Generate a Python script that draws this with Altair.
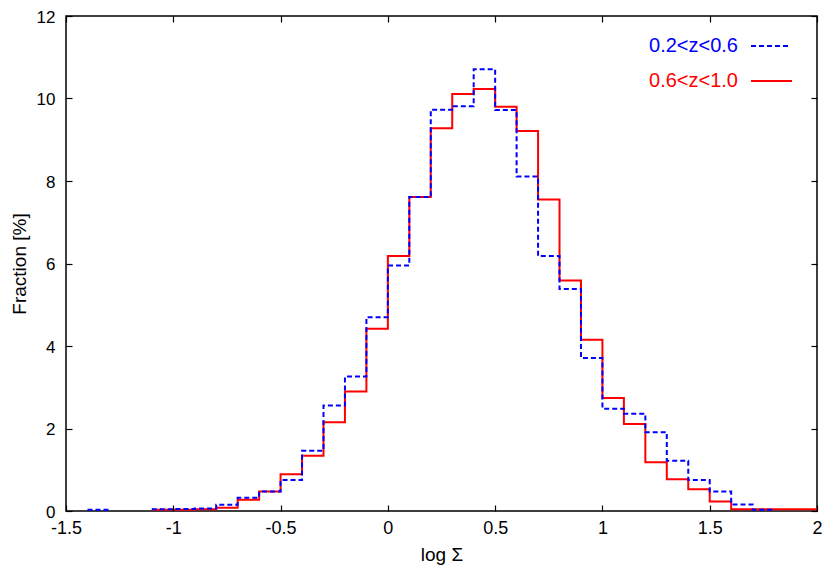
import altair as alt
import pandas as pd

# Bin edges (left edges of 0.1-wide bins) and the final right edge
bin_left = [-1.5, -1.4, -1.3, -1.2, -1.1, -1.0, -0.9, -0.8, -0.7, -0.6,
            -0.5, -0.4, -0.3, -0.2, -0.1, 0.0, 0.1, 0.2, 0.3, 0.4,
            0.5, 0.6, 0.7, 0.8, 0.9, 1.0, 1.1, 1.2, 1.3, 1.4,
            1.5, 1.6, 1.7, 1.8, 1.9]
bin_right_end = 2.0

# Fraction [%] per bin
low_z = [0, 0.03, 0, 0, 0.04, 0.05, 0.06, 0.15, 0.32, 0.47,
         0.75, 1.46, 2.56, 3.26, 4.70, 5.95, 7.61, 9.73, 9.81, 10.71,
         9.72, 8.11, 6.18, 5.38, 3.71, 2.48, 2.36, 1.91, 1.22, 0.75,
         0.47, 0.16, 0.03, 0, 0]
high_z = [0, 0, 0, 0, 0.03, 0.03, 0.04, 0.08, 0.27, 0.47,
          0.89, 1.34, 2.15, 2.90, 4.42, 6.18, 7.61, 9.28, 10.11, 10.23,
          9.80, 9.21, 7.55, 5.59, 4.15, 2.74, 2.11, 1.18, 0.77, 0.53,
          0.23, 0.04, 0.04, 0.04, 0.04]

series_labels = ["0.2<z<0.6", "0.6<z<1.0"]
x_ticks = [-1.5, -1.0, -0.5, 0.0, 0.5, 1.0, 1.5, 2.0]
y_ticks = [0, 2, 4, 6, 8, 10, 12]


def step_rows(values, name):
    rows = []
    seg = 0
    run = False
    for i, v in enumerate(values):
        if v > 0:
            rows.append({"x": bin_left[i], "y": v, "seg": seg, "series": name})
            run = True
        elif run:
            rows.append({"x": bin_left[i], "y": values[i - 1], "seg": seg, "series": name})
            seg += 1
            run = False
    if run:
        rows.append({"x": bin_right_end, "y": values[-1], "seg": seg, "series": name})
    return rows


df_low = pd.DataFrame(step_rows(low_z, series_labels[0]))
df_high = pd.DataFrame(step_rows(high_z, series_labels[1]))

FONT = "Liberation Sans"
xs = alt.Scale(domain=[-1.5, 2.0], nice=False, zero=False)
ys = alt.Scale(domain=[0, 12], nice=False, zero=False)

common_axis = dict(offset=-6, domain=False, tickSize=6, tickColor="black",
                   tickWidth=1.2, grid=False, labelFont=FONT, titleFont=FONT,
                   labelColor="black", titleColor="black",
                   titleFontWeight="normal", titleFontSize=19, zindex=1)

x_bottom = alt.Axis(orient="bottom", values=x_ticks, title="log Σ",
                    labelExpr="toString(datum.value)", labelPadding=8,
                    labelFontSize=18, titlePadding=8, labelFlush=False,
                    **common_axis)
y_left = alt.Axis(orient="left", values=y_ticks, title="Fraction [%]",
                  labelExpr="toString(datum.value)", labelPadding=11,
                  labelFontSize=17, labelOffset=1,
                  titlePadding=7, labelFlush=False, **common_axis)
x_top = alt.Axis(orient="top", values=x_ticks, title=None, labels=False, **common_axis)
y_right = alt.Axis(orient="right", values=y_ticks, title=None, labels=False, **common_axis)

high_line = alt.Chart(df_high).mark_line(
    interpolate="step-after", color="#ff0000", strokeWidth=2
).encode(
    x=alt.X("x:Q", scale=xs, axis=x_bottom),
    y=alt.Y("y:Q", scale=ys, axis=y_left),
    detail="seg:N",
)

low_line = alt.Chart(df_low).mark_line(
    interpolate="step-after", color="#0000ff", strokeWidth=2, strokeDash=[5, 3]
).encode(
    x=alt.X("x:Q", scale=xs, axis=x_top),
    y=alt.Y("y:Q", scale=ys, axis=y_right),
    detail="seg:N",
)

one = pd.DataFrame({"a": [0]})
leg_low_text = alt.Chart(one).mark_text(
    text=series_labels[0], color="#0000ff", font=FONT, fontSize=20,
    align="right", baseline="middle"
).encode(x=alt.value(672), y=alt.value(30))
leg_low_line = alt.Chart(one).mark_rule(
    color="#0000ff", strokeWidth=2, strokeDash=[5, 3]
).encode(x=alt.value(685), x2=alt.value(724), y=alt.value(30))
leg_high_text = alt.Chart(one).mark_text(
    text=series_labels[1], color="#ff0000", font=FONT, fontSize=20,
    align="right", baseline="middle"
).encode(x=alt.value(672), y=alt.value(65))
leg_high_line = alt.Chart(one).mark_rule(
    color="#ff0000", strokeWidth=2
).encode(x=alt.value(685), x2=alt.value(726), y=alt.value(65))

chart = alt.layer(
    high_line, low_line, leg_low_text, leg_low_line, leg_high_text, leg_high_line
).resolve_axis(
    x="independent", y="independent"
).properties(
    width=751, height=495,
    autosize=alt.AutoSizeParams(type="none"),
    padding={"left": 58, "top": 8, "right": 5, "bottom": 59},
    background="white",
).configure_view(
    stroke="black", strokeWidth=1.5
)

chart.save("out.html", embed_options={"renderer": "svg", "actions": False})
